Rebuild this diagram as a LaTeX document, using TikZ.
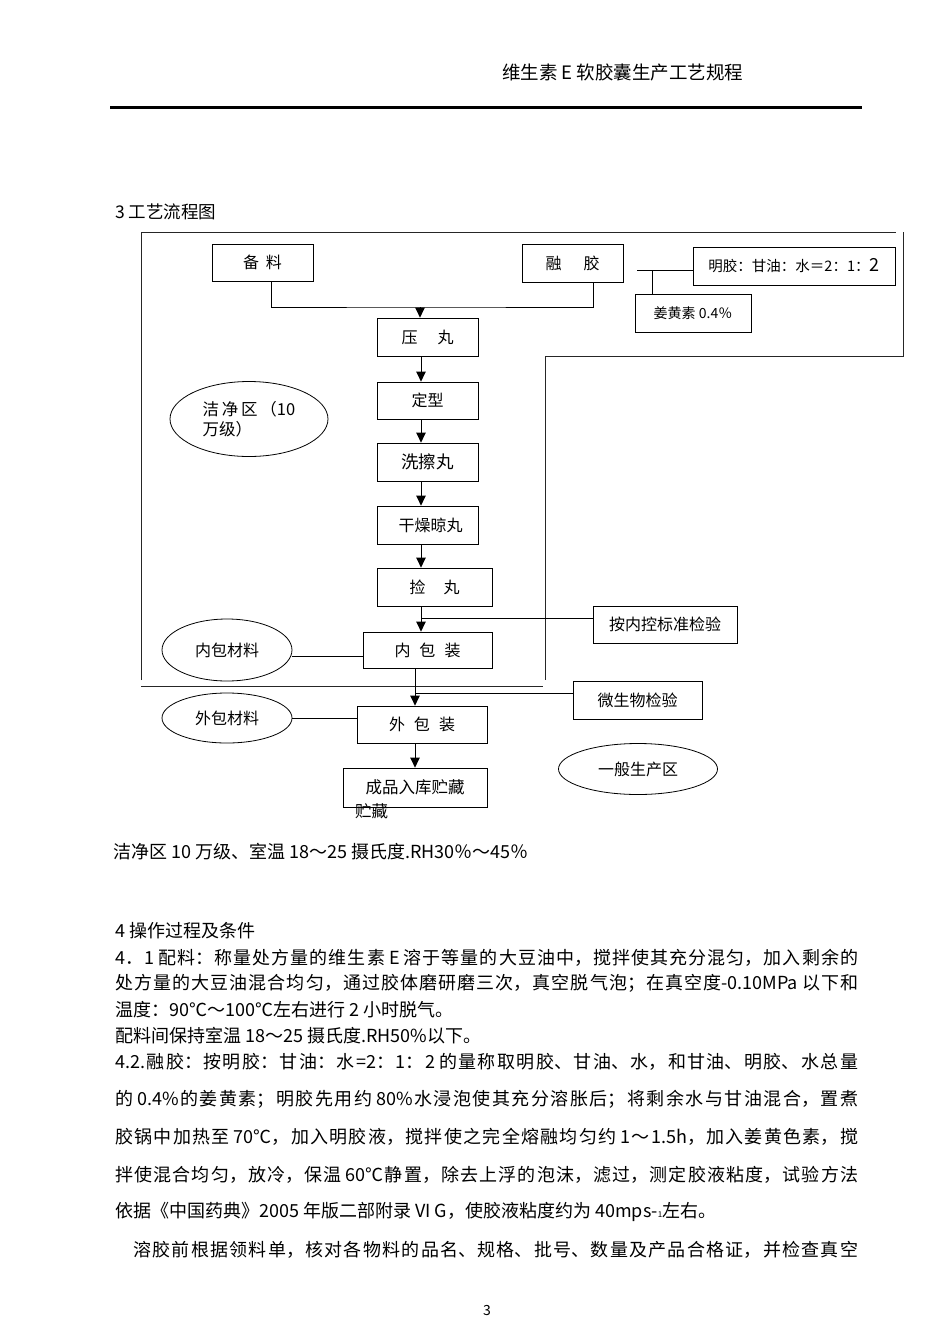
\documentclass[tikz,border=0pt]{standalone}
\usepackage{fontspec}
\setmainfont{Noto Sans CJK SC}
\usetikzlibrary{arrows.meta,shapes.geometric}
\newcommand{\myfs}[1]{\fontsize{#1pt}{#1pt}\selectfont}
\newcommand{\fullline}[2][743pt]{\parbox[c]{#1}{\XeTeXlinebreaklocale "zh"\XeTeXlinebreakskip=0pt plus 1fil\relax\parfillskip=0pt\relax\tolerance=10000\relax\hbadness=10000\relax\parindent=0pt\relax\noindent #2}}
\begin{document}
\begin{tikzpicture}[x=1pt,y=-1pt,
  box/.style={draw, line width=0.8pt, rectangle, inner sep=0pt, font=\myfs{16}},
  oval/.style={draw, line width=0.8pt, ellipse, inner sep=0pt, font=\myfs{16}},
  ln/.style={line width=0.8pt},
  zone/.style={line width=0.8pt, black!85},
  arr/.style={line width=1pt, -{Triangle[length=10pt,width=9.5pt]}},
  txt/.style={inner sep=0pt, anchor=west}]
\useasboundingbox (0,0) rectangle (950,1344);
\fill[white] (0,0) rectangle (950,1344);

% header
\node[txt, font=\myfs{18.5}] (hdr) at (502,72) {维生素 E 软胶囊生产工艺规程};
\draw[line width=3pt] (110,107) -- (862,107);
\node[txt, font=\myfs{17.5}] (t3) at (115,212) {3 工艺流程图};

% zone boundaries
\draw[zone] (141,680) -- (141,232) -- (896,232);
\draw[zone] (903,232) -- (903,356) -- (545,356) -- (545,680);
\draw[zone] (141,686) -- (543,686);

% boxes
\node[box, minimum width=101pt, minimum height=37pt] (bl) at (262.5,262.5) {备\hspace{7pt}料\hspace{32pt}};
\node[box, minimum width=101pt, minimum height=38pt] (rj) at (572.5,263) {融\hspace{22pt}胶};
\node[box, minimum width=202pt, minimum height=38pt, font=\myfs{14.5}] (mj) at (794,266) {明胶：甘油：水＝2：1：{\myfs{18}2}\hspace{12pt}};
\node[box, minimum width=116pt, minimum height=38pt, font=\myfs{14}] (jh) at (693,313) {姜黄素 0.4％\hspace{12pt}};
\node[box, minimum width=101pt, minimum height=38pt] (yw) at (427.5,337) {压\hspace{20pt}丸\hspace{11pt}};
\node[box, minimum width=101pt, minimum height=37pt] (dx) at (427.5,400.5) {定型\hspace{11pt}};
\node[box, minimum width=101pt, minimum height=38pt, font=\myfs{17.5}] (xc) at (427.5,462) {洗擦丸\hspace{19pt}};
\node[box, minimum width=101pt, minimum height=38pt] (gz) at (427.5,525) {\hspace{6pt}干燥晾丸};
\node[box, minimum width=115pt, minimum height=38pt] (jw) at (434.5,587) {捡\hspace{18pt}丸\hspace{23pt}};
\node[box, minimum width=144pt, minimum height=37pt] (ak) at (665,624.5) {按内控标准检验};
\node[box, minimum width=129pt, minimum height=36pt] (nb) at (427.5,650) {内\hspace{9pt}包\hspace{9pt}装\hspace{20pt}};
\node[box, minimum width=129pt, minimum height=38pt] (wsw) at (637.5,700) {微生物检验\hspace{21pt}};
\node[box, minimum width=130pt, minimum height=37pt] (wb) at (422,724.5) {外\hspace{9pt}包\hspace{9pt}装\hspace{21pt}};
\node[box, minimum width=144pt, minimum height=39pt, font=\myfs{16.5}] (cp) at (415,787.5) {成品入库贮藏\hspace{20pt}};
\node[txt, font=\myfs{16.5}] (cp2) at (355,811) {贮藏};

% ellipses
\node[oval, minimum width=158pt, minimum height=75pt, align=left, font=\myfs{16.5}] (jj) at (249,419) {洁\,净\,区\,（10\\[4pt]万级）};
\node[oval, minimum width=130pt, minimum height=62pt] (nbcl) at (227,650) {内包材料\hspace{10pt}};
\node[oval, minimum width=130pt, minimum height=50pt] (wbcl) at (227,718) {外包材料\hspace{10pt}};
\node[oval, minimum width=159pt, minimum height=51pt] (ybs) at (638,769) {一般生产区\hspace{12pt}};

% connectors
\coordinate (blb) at ([xshift=8.5pt]bl.south);
\coordinate (j1) at (420,307);
\draw[ln] (blb) |- (j1) -| ([xshift=20.5pt]rj.south);
\draw[arr] (j1) -- (j1 |- yw.north);
\coordinate (col) at (421,0);
\draw[arr] (col |- yw.south) -- (col |- dx.north);
\draw[arr] (col |- dx.south) -- (col |- xc.north);
\draw[arr] (col |- xc.south) -- (col |- gz.north);
\draw[arr] (col |- gz.south) -- (col |- jw.north);
\draw[arr] (col |- jw.south) -- (col |- nb.north);
\coordinate (k1) at (421,618);
\draw[ln] (k1) -- (k1 -| ak.west);
\coordinate (col2) at (415,0);
\draw[arr] (col2 |- nb.south) -- (col2 |- wb.north);
\coordinate (k2) at (415,693);
\draw[ln] (k2) -- (k2 -| wsw.west);
\draw[arr] (col2 |- wb.south) -- (col2 |- cp.north);
\draw[ln] ([yshift=-6pt]nbcl.east) -- ([yshift=-6pt]nbcl.east -| nb.west);
\draw[ln] (wbcl.east) -- (wbcl.east -| wb.west);
\coordinate (m1) at (637,270);
\draw[ln] (m1) -- (m1 -| mj.west);
\coordinate (m2) at (652,270);
\draw[ln] (m2) -- (m2 |- jh.north);

% text below
\node[txt, font=\myfs{18}] (cond) at (113,852) {洁净区 10 万级、室温 18～25 摄氏度.RH30％～45％};
\node[txt, font=\myfs{18}] (t4) at (115,931) {4 操作过程及条件};
\node[txt, font=\myfs{18}] (p1) at (115,957.5) {\fullline{4．1 配料：称量处方量的维生素 E 溶于等量的大豆油中，搅拌使其充分混匀，加入剩余的}};
\node[txt, font=\myfs{18}] (p2) at (115,983.5) {\fullline{处方量的大豆油混合均匀，通过胶体磨研磨三次，真空脱气泡；在真空度-0.10MPa 以下和}};
\node[txt, font=\myfs{18}] (p3) at (115,1010) {温度：90℃～100℃左右进行 2 小时脱气。};
\node[txt, font=\myfs{18}] (p4) at (115,1036) {配料间保持室温 18～25 摄氏度.RH50\%以下。};
\node[txt, font=\myfs{18}] (p5) at (115,1062) {\fullline{4.2.融胶：按明胶：甘油：水=2：1：2 的量称取明胶、甘油、水，和甘油、明胶、水总量}};
\node[txt, font=\myfs{18}] (p6) at (115,1099.6) {\fullline{的 0.4\%的姜黄素；明胶先用约 80\%水浸泡使其充分溶胀后；将剩余水与甘油混合，置煮}};
\node[txt, font=\myfs{18}] (p7) at (115,1137.2) {\fullline{胶锅中加热至 70℃，加入明胶液，搅拌使之完全熔融均匀约 1～1.5h，加入姜黄色素，搅}};
\node[txt, font=\myfs{18}] (p8) at (115,1174.8) {\fullline{拌使混合均匀，放冷，保温 60℃静置，除去上浮的泡沫，滤过，测定胶液粘度，试验方法}};
\node[txt, font=\myfs{18}] (p9) at (115,1212.4) {依据《中国药典》2005 年版二部附录 VI G，使胶液粘度约为 40mps-{\myfs{8}1}左右。};
\node[txt, font=\myfs{18}] (p10) at (133,1250) {\fullline[725pt]{溶胶前根据领料单，核对各物料的品名、规格、批号、数量及产品合格证，并检查真空}};
\node[font=\myfs{14}, inner sep=0pt] (pg) at (487,1310) {3};
\end{tikzpicture}
\end{document}
